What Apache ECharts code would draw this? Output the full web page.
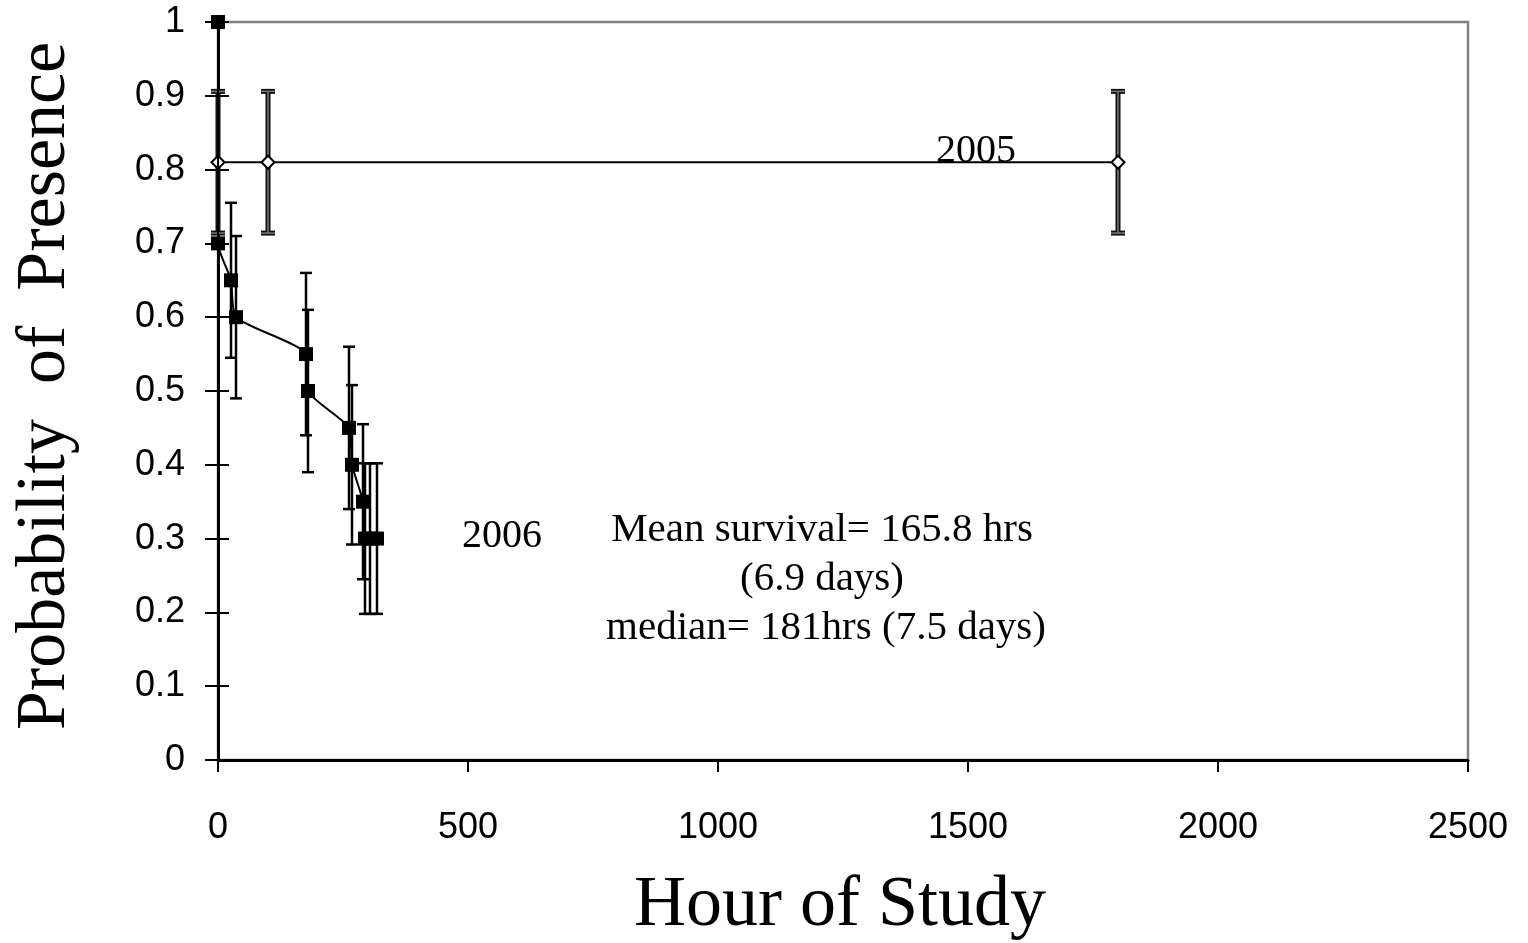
<!DOCTYPE html>
<html>
<head>
<meta charset="utf-8">
<script src="https://cdn.jsdelivr.net/npm/echarts@6/dist/echarts.min.js"></script>
<style>html,body{margin:0;padding:0;background:#fff}#c{width:1528px;height:943px}</style>
</head>
<body>
<div id="c"></div>
<script>
// ---- data ----
var hours2006 = [0, 0, 26, 36, 176, 180, 262, 268, 290, 294, 304, 318];
var prob2006  = [1.0, 0.7, 0.65, 0.6, 0.55, 0.5, 0.45, 0.4, 0.35, 0.3, 0.3, 0.3];
var err2006   = [0, 0, 0.105, 0.11, 0.11, 0.11, 0.11, 0.108, 0.105, 0.102, 0.102, 0.102];
var hours2005 = [0, 100, 1800];
var prob2005  = [0.81, 0.81, 0.81];
var err2005   = [0.096, 0.096, 0.096];
var xTicks = [0, 500, 1000, 1500, 2000, 2500];
var yTicks = [0, 0.1, 0.2, 0.3, 0.4, 0.5, 0.6, 0.7, 0.8, 0.9, 1];
var label2005 = "2005";
var label2006 = "2006";
var noteLines = ["Mean survival= 165.8 hrs", "(6.9 days)", "median= 181hrs (7.5 days)"];
var xTitle = "Hour of Study";
var yTitle = "Probability  of  Presence";

function zip(a, b) { return a.map(function (v, i) { return [v, b[i]]; }); }
function zip3(a, b, c) { return a.map(function (v, i) { return [v, b[i], c[i]]; }); }

function errRender(capHalf, styles) {
  return function (params, api) {
    var x = api.value(0), y = api.value(1), e = api.value(2);
    if (!e) return null;
    var top = api.coord([x, y + e]);
    var bot = api.coord([x, y - e]);
    var children = [];
    styles.forEach(function (st) {
      children.push({ type: 'line', shape: { x1: top[0], y1: top[1], x2: bot[0], y2: bot[1] }, style: { stroke: st.c, lineWidth: st.w } });
      children.push({ type: 'line', shape: { x1: top[0] - capHalf, y1: top[1], x2: top[0] + capHalf, y2: top[1] }, style: { stroke: st.c, lineWidth: st.w } });
      children.push({ type: 'line', shape: { x1: bot[0] - capHalf, y1: bot[1], x2: bot[0] + capHalf, y2: bot[1] }, style: { stroke: st.c, lineWidth: st.w } });
    });
    return { type: 'group', children: children };
  };
}

var chart = echarts.init(document.getElementById('c'), null, { renderer: 'canvas' });
var tickFont = { fontFamily: 'Liberation Sans', fontSize: 36, color: '#000' };
var serif = 'Liberation Serif';

chart.setOption({
  animation: false,
  backgroundColor: '#fff',
  grid: { left: 218, top: 22, right: 60, bottom: 183, show: true, borderColor: '#808080', borderWidth: 2.5, backgroundColor: 'transparent' },
  xAxis: {
    type: 'value', min: xTicks[0], max: xTicks[xTicks.length - 1], interval: 500,
    axisLine: { show: true, onZero: false, lineStyle: { color: '#000', width: 3 } },
    axisTick: { show: true, inside: false, length: 12, lineStyle: { color: '#000', width: 2 } },
    axisLabel: Object.assign({ margin: 50, formatter: function (v) { return String(v); } }, tickFont),
    splitLine: { show: false }
  },
  yAxis: [{
    type: 'value', min: yTicks[0], max: yTicks[yTicks.length - 1], interval: 0.1, position: 'left',
    axisLine: { show: true, onZero: false, lineStyle: { color: '#000', width: 3 } },
    axisTick: { show: true, inside: false, length: 13, lineStyle: { color: '#000', width: 2 } },
    axisLabel: Object.assign({ margin: 33, formatter: function (v) { return String(Math.round(v * 10) / 10); } }, tickFont),
    splitLine: { show: false }
  }, {
    type: 'value', min: yTicks[0], max: yTicks[yTicks.length - 1], interval: 0.1, position: 'left', offset: 0,
    axisLine: { show: false },
    axisTick: { show: true, inside: true, length: 11, lineStyle: { color: '#000', width: 2 } },
    axisLabel: { show: false },
    splitLine: { show: false }
  }],
  series: [
    {
      type: 'custom', name: 'err2005', xAxisIndex: 0, yAxisIndex: 0,
      renderItem: errRender(7, [{ c: '#111', w: 5 }, { c: '#7a7a7a', w: 1.5 }]),
      data: zip3(hours2005, prob2005, err2005), z: 2
    },
    {
      type: 'custom', name: 'err2006', xAxisIndex: 0, yAxisIndex: 0,
      renderItem: errRender(6, [{ c: '#000', w: 2.5 }]),
      data: zip3(hours2006, prob2006, err2006), z: 2
    },
    {
      type: 'line', name: '2005', xAxisIndex: 0, yAxisIndex: 0, smooth: 0.3,
      data: zip(hours2005, prob2005),
      lineStyle: { color: '#000', width: 2 },
      symbol: 'diamond', symbolSize: 13,
      itemStyle: { color: '#fff', borderColor: '#000', borderWidth: 2 }, z: 3
    },
    {
      type: 'line', name: '2006', xAxisIndex: 0, yAxisIndex: 0, smooth: 0.2,
      data: zip(hours2006, prob2006),
      lineStyle: { color: '#000', width: 2 },
      symbol: 'rect', symbolSize: 14,
      itemStyle: { color: '#000', borderColor: '#000', borderWidth: 0 }, z: 4
    }
  ],
  graphic: [
    { type: 'text', left: 936, top: 131, style: { text: label2005, font: '40px "' + serif + '"', fill: '#000' } },
    { type: 'text', left: 462, top: 516, style: { text: label2006, font: '40px "' + serif + '"', fill: '#000' } },
    { type: 'text', x: 822, y: 530, style: { text: noteLines[0], font: '41px "' + serif + '"', fill: '#000', textAlign: 'center', textVerticalAlign: 'middle' } },
    { type: 'text', x: 822, y: 579, style: { text: noteLines[1], font: '41px "' + serif + '"', fill: '#000', textAlign: 'center', textVerticalAlign: 'middle' } },
    { type: 'text', x: 826, y: 628, style: { text: noteLines[2], font: '41px "' + serif + '"', fill: '#000', textAlign: 'center', textVerticalAlign: 'middle' } },
    { type: 'text', x: 840, y: 906, style: { text: xTitle, font: '72px "' + serif + '"', fill: '#000', textAlign: 'center', textVerticalAlign: 'middle' } },
    { type: 'text', x: 46, y: 386, rotation: Math.PI / 2, style: { text: yTitle, font: '70px "' + serif + '"', fill: '#000', textAlign: 'center', textVerticalAlign: 'middle' } }
  ]
});
</script>
</body>
</html>
